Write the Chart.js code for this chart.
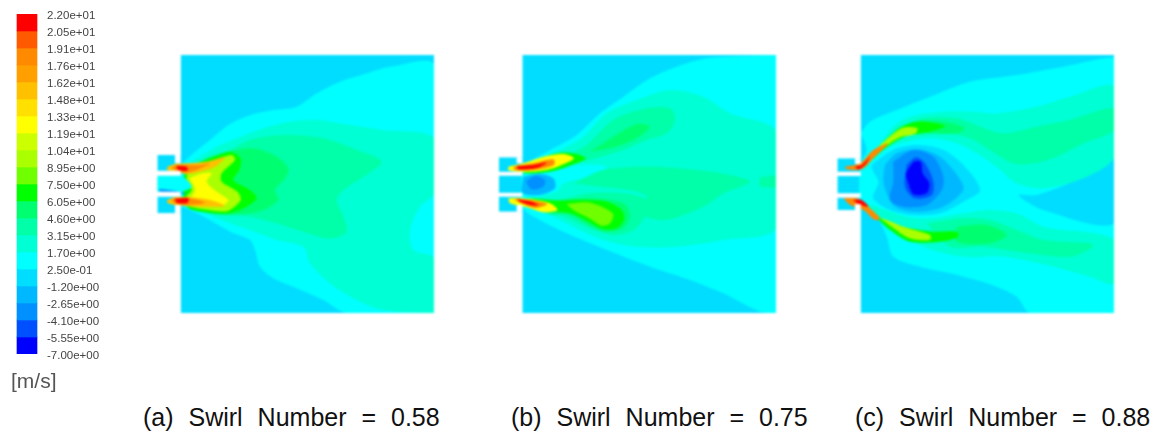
<!DOCTYPE html>
<html lang="en">
<head>
<meta charset="UTF-8">
<title>Velocity contours at three swirl numbers</title>
<script src="https://cdn.jsdelivr.net/npm/chart.js"></script>
<style>
html, body { margin: 0; padding: 0; background: #fff; overflow: hidden; }
canvas { position: absolute; }
#scale { left: 0; top: 0; filter: blur(0.5px); }
#panelA { left: 150px; top: 55px; filter: blur(1px); }
#panelB { left: 490px; top: 55px; filter: blur(1px); }
#panelC { left: 830px; top: 55px; filter: blur(1px); }
.cap { position: absolute; top: 403px; font: 25px "Liberation Sans", sans-serif; color: #111; white-space: pre; word-spacing: 8px; }
</style>
</head>
<body>
<canvas id="scale" width="130" height="400"></canvas>
<canvas id="panelA" width="284" height="258"></canvas>
<canvas id="panelB" width="286" height="258"></canvas>
<canvas id="panelC" width="284" height="258"></canvas>
<div class="cap" style="left:143px">(a) Swirl Number = 0.58</div>
<div class="cap" style="left:511px">(b) Swirl Number = 0.75</div>
<div class="cap" style="left:855px">(c) Swirl Number = 0.88</div>
<script>
// colour scale, top to bottom
const bandEdges = [22, 20.55, 19.1, 17.65, 16.2, 14.75, 13.3, 11.85, 10.4, 8.95, 7.5, 6.05, 4.6, 3.15, 1.7, 0.25, -1.2, -2.65, -4.1, -5.55, -7];
const tickLabels = ['2.20e+01', '2.05e+01', '1.91e+01', '1.76e+01', '1.62e+01', '1.48e+01', '1.33e+01', '1.19e+01', '1.04e+01', '8.95e+00', '7.50e+00', '6.05e+00', '4.60e+00', '3.15e+00', '1.70e+00', '2.50e-01', '-1.20e+00', '-2.65e+00', '-4.10e+00', '-5.55e+00', '-7.00e+00'];
const bandColors = ['#ff0000', '#ff5a00', '#ff8a00', '#ffa000', '#ffc000', '#ffe000', '#ffff00', '#ccff00', '#aaff00', '#70ff00', '#00ff00', '#00ff70', '#00ffa8', '#00ffd4', '#00ffff', '#00ddff', '#00b8ff', '#0090ff', '#0050ff', '#0000ff'];

// band number = index in bandColors
const RED = 0, ORANGE = 2, AMBER = 4, YELLOW = 6, LIME = 8, LEAF = 9, GREEN = 10, SPRING = 11, MINT = 12, AQUA = 13, CYAN = 14, SKY = 15, AZURE = 16, BLUE = 17, ROYAL = 18, DEEP = 19;

// panel (a) contours, x y x y ...
const aDomain = [92,15, 853,15, 853,789, 92,789];
const aStubs = [22,315, 92,315, 92,490, 22,490];
const aMid = [22,377, 92,377, 125,410, 92,425, 22,425];
const aCyan = [92,345, 130,310, 180,270, 235,225, 300,195, 370,180, 440,170, 500,130, 570,95, 650,70, 720,50, 853,45, 853,789, 590,789, 520,750, 440,715, 370,685, 330,650, 315,600, 300,570, 240,545, 170,505, 120,480, 92,465];
const aAqua = [120,340, 150,320, 200,290, 260,265, 340,235, 420,215, 500,210, 600,225, 700,240, 853,265, 853,430, 810,470, 780,540, 790,600, 853,625, 853,789, 700,780, 620,750, 540,700, 480,640, 460,590, 380,570, 300,540, 240,520, 170,490, 120,465];
const aMint = [170,320, 240,300, 300,270, 400,255, 520,265, 620,300, 695,335, 640,380, 580,420, 560,450, 580,500, 590,545, 540,565, 460,545, 380,520, 300,500, 220,495, 150,480, 130,400];
const aSpring = [230,305, 310,295, 380,320, 415,355, 405,385, 375,420, 385,450, 340,480, 280,492, 200,492, 150,470, 130,400];
const aGreen = [150,335, 240,305, 272,325, 268,360, 250,390, 300,420, 320,445, 290,470, 240,490, 190,490, 110,470, 100,400, 110,360];
const aLime = [115,355, 180,335, 245,315, 255,330, 215,370, 215,395, 262,425, 272,450, 235,482, 190,482, 110,466, 105,445, 125,420, 110,395];
const aYellow = [118,385, 150,372, 185,370, 170,395, 200,425, 235,450, 215,468, 150,458, 120,450, 135,420];
const aUpperAmber = [52,350, 75,342, 115,340, 170,335, 225,322, 195,350, 140,368, 105,372, 75,364, 52,360];
const aUpperOrange = [65,352, 85,345, 115,345, 150,345, 180,340, 140,360, 105,368, 75,360];
const aUpperRed = [78,347, 110,350, 112,362, 85,360];
const aLowerAmber = [52,450, 75,442, 120,442, 180,450, 225,468, 150,470, 80,466, 52,458];
const aLowerOrange = [65,450, 75,444, 120,445, 165,458, 125,464, 80,463];
const aLowerRed = [75,446, 115,444, 112,459, 80,458];
const aStreak = [28,417, 75,422, 112,432, 75,430, 28,424];
const aMask = [[0,0, 92,0, 92,315, 0,315], [75,315, 92,315, 92,340, 75,340], [0,362, 92,362, 92,377, 0,377], [0,425, 92,425, 92,440, 0,440], [75,465, 92,465, 92,490, 75,490], [0,490, 92,490, 92,800, 0,800], [0,0, 22,0, 22,800, 0,800]];

// panel (b) contours
const bDomain = [97,15, 858,15, 858,789, 97,789];
const bStubs = [27,322, 97,322, 97,485, 27,485];
const bCyan = [97,345, 180,300, 260,255, 330,190, 400,140, 480,85, 560,50, 650,25, 760,18, 858,15, 858,789, 810,785, 700,730, 600,690, 480,650, 350,600, 230,550, 140,505, 97,470];
const bAqua = [140,325, 210,300, 280,260, 350,190, 440,150, 540,120, 640,140, 720,190, 858,245, 858,535, 700,570, 560,590, 440,590, 340,570, 250,530, 170,490, 120,470, 110,400];
const bWedge = [97,377, 190,360, 270,345, 350,350, 290,380, 220,400, 200,425, 97,440];
const bCentre = [250,400, 340,360, 480,350, 620,360, 720,375, 780,395, 700,430, 640,470, 520,510, 430,480, 470,440, 420,420, 330,410];
const bTail = [810,382, 858,378, 858,410, 810,408];
const bUpperMint = [225,320, 290,285, 370,210, 470,175, 540,175, 555,210, 530,250, 470,270, 400,300, 330,320, 280,332];
const bUpperSpring = [300,305, 370,260, 440,222, 480,230, 440,265, 380,290];
const bUpperGreen = [120,342, 190,312, 240,308, 288,325, 240,347, 180,365, 100,368];
const bUpperYellow = [55,350, 100,340, 160,320, 220,312, 252,325, 215,345, 170,360, 100,366, 55,360];
const bUpperOrange = [70,350, 130,340, 190,328, 192,345, 130,360, 75,360];
const bUpperRed = [80,348, 130,345, 170,338, 140,354, 85,358];
const bLowerMint = [100,445, 200,450, 300,430, 400,430, 470,450, 470,490, 430,540, 370,555, 300,535, 200,490, 130,470];
const bLowerSpring = [110,445, 200,450, 300,445, 400,460, 420,495, 400,535, 345,545, 295,525, 240,495, 170,490];
const bLowerGreen = [120,445, 200,452, 280,450, 350,455, 395,480, 402,510, 380,535, 340,538, 295,515, 240,490, 170,480];
const bLowerLeaf = [230,462, 300,458, 368,490, 362,518, 335,527, 298,505, 250,480];
const bLowerYellow = [55,445, 100,445, 180,460, 202,480, 160,487, 110,472, 60,460];
const bLowerOrange = [70,447, 120,450, 172,462, 135,474, 95,460];
const bLowerRed = [80,447, 125,455, 147,466, 120,465, 90,455];
const bBubble = [100,380, 150,372, 190,385, 195,415, 150,435, 97,428];
const bCore = [108,395, 135,378, 165,390, 160,410, 125,418];
const bMask = [[0,0, 97,0, 97,322, 0,322], [80,322, 97,322, 97,340, 80,340], [0,365, 97,365, 97,377, 0,377], [0,428, 97,428, 97,440, 0,440], [80,465, 97,465, 97,485, 80,485], [0,485, 97,485, 97,800, 0,800], [0,0, 27,0, 27,800, 0,800]];

// panel (c) contours
const cDomain = [92,15, 853,15, 853,789, 92,789];
const cStubs = [22,325, 92,325, 92,480, 22,480];
const cCyan = [92,250, 120,215, 200,180, 300,140, 420,95, 560,75, 700,50, 853,25, 853,789, 600,789, 560,740, 470,700, 360,670, 270,650, 190,620, 170,560, 140,500, 92,470, 92,340, 110,300];
const cWake = [853,320, 760,380, 620,435, 565,435, 640,480, 853,520];
const cUpperAqua = [120,320, 190,230, 240,200, 340,185, 430,185, 500,190, 620,170, 720,140, 853,110, 853,320, 760,385, 640,415, 560,400, 500,350, 440,310, 380,280, 300,265, 230,275, 160,300, 130,330];
const cUpperMint = [200,235, 280,205, 380,205, 450,230, 520,250, 620,230, 720,210, 853,175, 853,240, 760,280, 680,320, 610,340, 550,340, 480,300, 420,265, 340,250, 250,255];
const cUpperSpring = [215,230, 280,212, 360,218, 405,235, 380,250, 300,250];
const cUpperGreen = [100,342, 200,240, 260,215, 345,228, 300,245, 230,258, 180,285, 130,325, 105,352];
const cUpperLime = [100,335, 140,295, 215,235, 262,235, 255,252, 210,262, 160,295, 110,340];
const cUpperOrange = [45,350, 90,340, 130,300, 175,280, 130,325, 95,358, 50,358];
const cUpperRed = [75,350, 95,345, 120,320, 105,345, 85,358];
const cLowerAqua = [92,455, 140,470, 230,500, 300,505, 400,490, 470,480, 560,490, 640,530, 853,570, 853,700, 780,680, 650,645, 520,620, 400,620, 280,590, 200,540, 130,490];
const cLowerMint = [290,520, 400,505, 480,510, 560,540, 640,570, 780,580, 790,590, 720,620, 600,610, 460,590, 360,590];
const cLowerSpring = [380,530, 470,525, 530,555, 480,580, 380,575];
const cLowerGreen = [100,465, 170,515, 240,535, 310,545, 380,545, 385,560, 330,575, 240,575, 180,540, 125,490];
const cLowerLime = [150,505, 170,510, 220,530, 300,555, 300,570, 240,565, 185,530];
const cLowerOrange = [40,445, 80,445, 115,470, 150,505, 135,510, 100,480, 60,465];
const cLowerRed = [70,450, 95,450, 115,470, 85,462];
const cDome = [92,370, 120,368, 145,395, 130,425, 92,430];
const cRing = [150,325, 200,295, 270,285, 340,300, 400,345, 450,420, 400,455, 330,490, 250,495, 180,480, 130,445, 145,395, 125,350];
const cHalo = [165,345, 200,310, 265,298, 330,320, 385,380, 400,420, 340,470, 260,485, 195,470, 170,430, 160,390];
const cOuter = [190,335, 250,300, 310,320, 340,380, 335,420, 290,465, 220,470, 180,450, 190,395];
const cInner = [230,345, 258,322, 285,340, 310,395, 305,435, 255,445, 225,410];
const cEye = [250,335, 272,335, 278,370, 298,400, 290,430, 250,433, 235,400, 228,370];
const cMask = [[0,0, 92,0, 92,325, 0,325], [75,325, 92,325, 92,342, 75,342], [0,365, 92,365, 92,378, 0,378], [0,430, 92,430, 92,443, 0,443], [75,462, 92,462, 92,480, 75,480], [0,480, 92,480, 92,800, 0,800], [0,0, 22,0, 22,800, 0,800]];

function toPoints(flat) {
    var pts = [];
    for (var i = 0; i < flat.length; i += 2) pts.push({x: flat[i], y: flat[i + 1]});
    pts.push(pts[0]);
    return pts;
}

function shape(flat, color, tension) {
    return {
        data: toPoints(flat),
        showLine: true,
        fill: 'shape',
        backgroundColor: color,
        borderWidth: 0,
        pointRadius: 0,
        tension: tension
    };
}

function panel(id, xMax, yMin, yMax, plain, bands, mask) {
    var datasets = plain.map(p => shape(p[1], bandColors[p[0]], 0))
        .concat(bands.map(b => shape(b[1], bandColors[b[0]], 0.3)))
        .concat(mask.map(m => shape(m, '#ffffff', 0)));
    // chart.js paints the last dataset first
    datasets.reverse();
    new Chart(document.getElementById(id), {
        type: 'scatter',
        data: {datasets: datasets},
        options: {
            responsive: false,
            animation: false,
            plugins: {legend: {display: false}, tooltip: {enabled: false}},
            scales: {
                x: {type: 'linear', display: false, min: 0, max: xMax},
                y: {type: 'linear', display: false, min: yMin, max: yMax, reverse: true}
            }
        }
    });
}

panel('panelA', 852, 15, 789, [[SKY, aDomain], [SKY, aStubs]], [
    [CYAN, aCyan], [AQUA, aAqua], [MINT, aMint], [SPRING, aSpring], [GREEN, aGreen], [LIME, aLime], [YELLOW, aYellow],
    [CYAN, aMid], [AMBER, aUpperAmber], [ORANGE, aUpperOrange], [RED, aUpperRed], [AMBER, aLowerAmber], [ORANGE, aLowerOrange], [RED, aLowerRed], [BLUE, aStreak]
], aMask);

panel('panelB', 858, 15, 789, [[SKY, bDomain], [SKY, bStubs]], [
    [CYAN, bCyan], [AQUA, bAqua], [CYAN, bWedge], [MINT, bCentre], [MINT, bTail], [MINT, bUpperMint], [SPRING, bUpperSpring], [GREEN, bUpperGreen],
    [YELLOW, bUpperYellow], [ORANGE, bUpperOrange], [RED, bUpperRed], [MINT, bLowerMint], [SPRING, bLowerSpring], [GREEN, bLowerGreen], [LEAF, bLowerLeaf],
    [YELLOW, bLowerYellow], [ORANGE, bLowerOrange], [RED, bLowerRed], [AZURE, bBubble], [BLUE, bCore]
], bMask);

panel('panelC', 852, 15, 789, [[SKY, cDomain], [SKY, cStubs]], [
    [CYAN, cCyan], [SKY, cWake], [AQUA, cUpperAqua], [MINT, cUpperMint], [SPRING, cUpperSpring], [GREEN, cUpperGreen], [LIME, cUpperLime], [ORANGE, cUpperOrange], [RED, cUpperRed],
    [AQUA, cLowerAqua], [MINT, cLowerMint], [SPRING, cLowerSpring], [GREEN, cLowerGreen], [LIME, cLowerLime], [ORANGE, cLowerOrange], [RED, cLowerRed],
    [SKY, cRing], [CYAN, cDome], [AZURE, cHalo], [BLUE, cOuter], [ROYAL, cInner], [DEEP, cEye]
], cMask);

// colour bar
new Chart(document.getElementById('scale'), {
    type: 'bar',
    data: {
        labels: [''],
        datasets: bandColors.map((color, i) => ({
            data: [[bandEdges[i + 1], bandEdges[i]]],
            backgroundColor: color,
            borderWidth: 0,
            barThickness: 20,
            grouped: false
        }))
    },
    options: {
        responsive: false,
        animation: false,
        layout: {padding: {left: 11, top: 14}},
        plugins: {
            legend: {display: false},
            tooltip: {enabled: false},
            title: {display: true, text: '[m/s]', position: 'bottom', align: 'start', color: '#555', font: {family: 'Liberation Sans', size: 21, weight: 'normal'}, padding: {top: 15.4, bottom: 5.4}}
        },
        scales: {
            x: {display: false},
            y: {
                position: 'right',
                min: -7,
                max: 22,
                grid: {display: false, drawTicks: false},
                border: {display: false},
                afterBuildTicks: function (axis) { axis.ticks = bandEdges.map(v => ({value: v})); },
                afterFit: function (axis) { axis.width = 87; },
                ticks: {
                    autoSkip: false,
                    padding: 4,
                    labelOffset: 1.5,
                    color: '#444',
                    font: {family: 'Liberation Sans', size: 11.5},
                    callback: function (value, index) { return tickLabels[index]; }
                }
            }
        }
    }
});
</script>
</body>
</html>
